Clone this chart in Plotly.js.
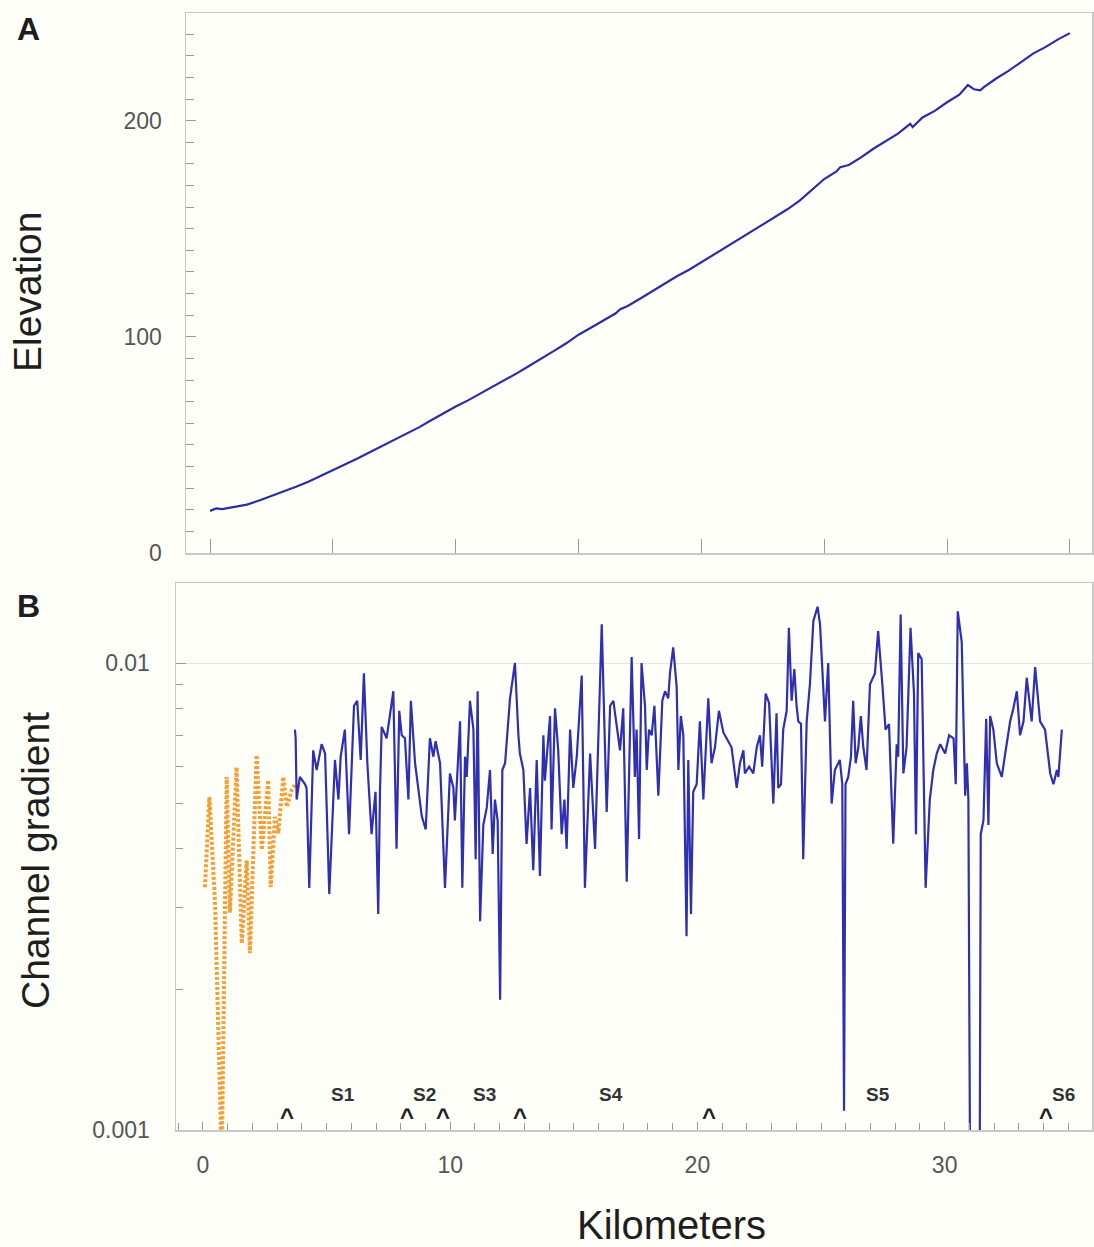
<!DOCTYPE html>
<html>
<head>
<meta charset="utf-8">
<script src="https://cdn.plot.ly/plotly-3.0.1.min.js"></script>
<style>html,body{margin:0;padding:0;background:#fffffa;}</style>
</head>
<body>
<div id="chart" style="width:1094px;height:1247px;"></div>
<script>
// ---- Panel A: elevation profile ----
const elevKm = [0,0.25,0.5,1,1.5,2,2.5,3,3.5,4,4.5,5,5.5,6,6.5,7,7.5,8,8.5,9,9.5,10,10.5,11,11.5,12,12.5,13,13.5,14,14.5,15,15.5,16,16.5,16.7,17,17.5,18,18.5,19,19.5,20,20.5,21,21.5,22,22.5,23,23.5,24,24.5,25,25.5,25.65,26,26.5,27,27.5,28,28.5,28.6,29,29.5,30,30.5,30.85,31.1,31.35,31.5,32,32.5,33,33.5,34,34.5,35];
const elevation = [19.5,20.6,20.3,21.2,22.4,24.3,26.4,28.4,30.6,33.0,35.6,38.4,41.0,43.7,46.6,49.5,52.2,55.4,58.1,61.4,64.6,67.8,70.6,73.7,77.0,80.1,83.2,86.6,89.9,93.5,97.0,101.0,104.2,107.5,110.8,112.8,114.3,117.6,121.2,124.8,128.0,131.0,134.5,138.0,141.5,145.0,148.5,152.0,155.5,159.0,163.0,168.0,173.0,176.5,178.5,179.5,183.0,187.0,190.5,194.0,198.5,197.0,201.5,204.5,208.5,212.0,216.5,214.5,214.0,215.5,219.5,223.0,227.0,231.0,234.0,237.5,240.5];

// ---- Panel B: channel gradient, upstream (orange dotted) ----
const upperKm = [0.08,0.26,0.49,0.76,0.96,1.09,1.36,1.57,1.77,1.90,2.17,2.38,2.64,2.74,2.91,3.05,3.25,3.39,3.59,3.72];
const upperGradient = [0.00331,0.00516,0.00306,0.00085,0.00570,0.00292,0.00598,0.00251,0.00378,0.00239,0.00635,0.00398,0.00561,0.00331,0.00468,0.00432,0.00570,0.00492,0.00535,0.00548];

// ---- Panel B: channel gradient, main (blue) ----
const gradKm = [
3.72,3.75,3.79,3.92,4.13,4.19,4.30,4.46,4.60,4.80,
4.94,5.11,5.34,5.48,5.57,5.74,5.91,6.11,6.24,6.38,
6.51,6.65,6.82,6.98,7.09,7.16,7.23,7.43,7.70,7.83,
7.94,8.04,8.17,8.31,8.41,8.58,8.85,9.01,9.18,9.32,
9.41,9.59,9.79,9.99,
10.13,10.19,10.40,10.49,10.60,10.67,10.80,10.94,11.03,11.11,
11.21,11.34,11.48,11.61,11.72,11.81,11.92,12.02,12.11,12.22,
12.42,12.62,12.76,12.82,12.96,13.09,13.23,13.36,13.50,13.63,
13.77,13.83,14.04,14.10,14.24,14.37,14.51,14.62,14.71,14.85,
14.98,15.12,15.32,15.45,15.66,15.86,16.13,16.33,16.47,
16.60,16.87,17.00,17.14,17.34,17.47,17.54,17.64,17.74,17.88,
17.95,18.04,18.15,18.26,18.42,18.58,18.69,18.82,18.89,19.02,
19.16,19.23,19.33,19.43,19.56,19.63,19.74,19.83,19.97,20.10,
20.24,20.44,20.57,20.71,20.87,21.05,21.18,21.38,21.59,21.72,
21.86,21.92,22.09,22.26,22.40,22.53,22.62,22.76,22.90,23.07,
23.20,23.27,23.38,23.47,23.61,23.70,23.81,23.92,24.01,24.08,
24.19,24.28,24.42,24.55,24.69,24.86,24.96,25.05,25.16,25.29,
25.43,25.56,25.76,25.86,25.93,25.99,26.10,26.21,26.30,26.40,
26.51,26.61,26.71,26.84,26.98,27.18,27.31,27.48,27.61,27.75,
27.92,28.06,28.12,28.22,28.33,28.46,28.62,28.76,28.84,28.93,
29.07,29.23,29.40,29.54,
29.68,29.82,30.02,30.18,30.36,30.45,30.53,30.69,30.83,30.90,
30.96,31.08,31.38,31.46,31.57,31.68,31.77,31.84,31.97,32.11,
32.31,32.45,32.65,32.78,32.92,33.05,33.19,33.32,33.52,33.66,
33.86,34.06,34.27,34.40,34.54,34.60,34.74];
const gradient = [
0.0072,0.0069,0.0051,0.0057,0.0055,0.0054,0.0033,0.0065,0.0059,0.0067,
0.0064,0.0032,0.0062,0.0051,0.0063,0.0072,0.0043,0.0081,0.0083,0.0062,
0.0095,0.0061,0.0043,0.0053,0.0029,0.0053,0.0073,0.0069,0.0087,0.0040,
0.0079,0.0070,0.0069,0.0051,0.0083,0.0061,0.0047,0.0044,0.0069,0.0063,
0.0068,0.0061,0.0033,0.0058,
0.0054,0.0046,0.0075,0.0033,0.0063,0.0057,0.0083,0.0072,0.0038,0.0087,
0.0028,0.0045,0.0049,0.0059,0.0039,0.0051,0.0046,0.0019,0.0059,0.0061,
0.0084,0.0100,0.0070,0.0064,0.0059,0.0041,0.0054,0.0036,0.0062,0.0035,
0.0070,0.0056,0.0077,0.0044,0.0080,0.0065,0.0043,0.0051,0.0040,0.0072,
0.0054,0.0063,0.0094,0.0033,0.0064,0.0040,0.0121,0.0048,0.0081,
0.0083,0.0065,0.0080,0.0034,0.0103,0.0057,0.0072,0.0042,0.0100,0.0081,
0.0059,0.0072,0.0070,0.0081,0.0052,0.0083,0.0087,0.0084,0.0095,0.0108,
0.0089,0.0059,0.0077,0.0070,0.0026,0.0062,0.0029,0.0053,0.0055,0.0075,
0.0051,0.0084,0.0061,0.0066,0.0079,0.0071,0.0069,0.0066,0.0054,0.0061,
0.0065,0.0058,0.0060,0.0058,0.0066,0.0070,0.0060,0.0086,0.0082,0.0050,
0.0078,0.0054,0.0055,0.0072,0.0079,0.0119,0.0083,0.0097,0.0081,0.0075,
0.0074,0.0038,0.0075,0.0090,0.0123,0.0132,0.0121,0.0100,0.0075,0.0100,
0.0050,0.0059,0.0062,0.0055,0.0011,0.0055,0.0057,0.0063,0.0083,0.0061,
0.0066,0.0077,0.0066,0.0059,0.0090,0.0095,0.0117,0.0090,0.0072,0.0074,
0.0041,0.0067,0.0063,0.0127,0.0058,0.0066,0.0119,0.0086,0.0043,0.0105,
0.0102,0.0033,0.0051,0.0059,
0.0064,0.0067,0.0064,0.0070,0.0069,0.0055,0.0129,0.0111,0.0052,0.0061,
0.0051,0.0002,0.0002,0.0043,0.0046,0.0076,0.0045,0.0077,0.0072,0.0061,
0.0057,0.0064,0.0075,0.0080,0.0087,0.0070,0.0075,0.0093,0.0075,0.0098,
0.0075,0.0072,0.0058,0.0055,0.0059,0.0057,0.0072];

// ---- Markers / segment labels ----
const caretKm = [3.38, 8.26, 9.72, 12.81, 20.45, 34.08];
const segmentNames = ['S1','S2','S3','S4','S5','S6'];
const segmentKm = [5.67, 8.97, 11.38, 16.51, 27.29, 34.79];

const FONT = '"Liberation Sans", Arial, Helvetica, sans-serif';
const W = 1094, H = 1247;
const px = v => v / W;
const py = v => 1 - v / H;

const traces = [
  {x: elevKm, y: elevation, xaxis: 'x', yaxis: 'y', mode: 'lines',
   line: {color: '#2c2ca6', width: 2.2}, showlegend: false},
  {x: upperKm, y: upperGradient, xaxis: 'x2', yaxis: 'y2', mode: 'lines',
   line: {color: '#f2a03a', width: 4, dash: '3px,2px'}, showlegend: false},
  {x: gradKm, y: gradient, xaxis: 'x2', yaxis: 'y2', mode: 'lines',
   line: {color: '#2f2fb2', width: 2.2}, showlegend: false}
];

const axisCommon = {
  showline: true, mirror: true, linecolor: '#c9c9c9', linewidth: 1.5,
  ticks: 'inside', tickcolor: '#9a9a9a', tickwidth: 1,
  tickfont: {family: FONT, size: 23, color: '#555555'},
  zeroline: false, showgrid: false, fixedrange: true
};

function txt(x, y, text, size, extra) {
  return Object.assign({xref: 'paper', yref: 'paper', x: px(x), y: py(y), text: text,
    showarrow: false, xanchor: 'center', yanchor: 'middle',
    font: {family: FONT, size: size, color: '#1e1e1e'}}, extra || {});
}

const ann = [
  txt(28, 29, '<b>A</b>', 32),
  txt(28, 606, '<b>B</b>', 32),
  txt(28, 292, 'Elevation', 39, {textangle: -90}),
  txt(35, 861, 'Channel gradient', 39, {textangle: -90}),
  txt(671, 1225, 'Kilometers', 40)
];
segmentNames.forEach((t, i) => ann.push({
  xref: 'x2', yref: 'y2', x: segmentKm[i], y: -2.924, text: '<b>' + t + '</b>', showarrow: false,
  xanchor: 'center', yanchor: 'middle',
  font: {family: FONT, size: 19, color: '#333'}
}));
caretKm.forEach(k => ann.push({
  xref: 'x2', yref: 'y2', x: k, y: -2.972, text: '<b>^</b>', showarrow: false,
  xanchor: 'center', yanchor: 'middle',
  font: {family: FONT, size: 24, color: '#222'}
}));

const layout = {
  width: W, height: H,
  margin: {l: 0, r: 0, t: 0, b: 0},
  paper_bgcolor: '#fffffa', plot_bgcolor: '#fffffa',
  showlegend: false,
  xaxis: Object.assign({}, axisCommon, {
    domain: [px(186), px(1092)], anchor: 'y', range: [-0.98, 35.9],
    tick0: 0, dtick: 5, ticklen: 14, showticklabels: false
  }),
  yaxis: Object.assign({}, axisCommon, {
    domain: [py(553), py(13)], anchor: 'x', range: [0, 249.8],
    tick0: 0, dtick: 100, ticklen: 10, ticklabelstandoff: 18,
    minor: {dtick: 10, ticks: 'inside', ticklen: 8, tickcolor: '#9a9a9a', showgrid: false}
  }),
  xaxis2: Object.assign({}, axisCommon, {
    domain: [px(176), px(1092)], anchor: 'y2', range: [-1.09, 35.96],
    tick0: 0, dtick: 10, ticklen: 8, ticklabelstandoff: 14,
    minor: {dtick: 1, ticks: 'inside', ticklen: 7, tickcolor: '#9a9a9a', showgrid: false}
  }),
  yaxis2: Object.assign({}, axisCommon, {
    domain: [py(1130), py(583)], anchor: 'x2', type: 'log', range: [-3, -1.8287],
    dtick: 1, ticklen: 10, ticklabelstandoff: 20, exponentformat: 'none',
    showgrid: true, gridcolor: '#e4e4e0', gridwidth: 1,
    minor: {dtick: 'D1', ticks: 'inside', ticklen: 7, tickcolor: '#9a9a9a', showgrid: false}
  }),
  annotations: ann
};

Plotly.newPlot('chart', traces, layout, {displayModeBar: false, staticPlot: true});
</script>
</body>
</html>
